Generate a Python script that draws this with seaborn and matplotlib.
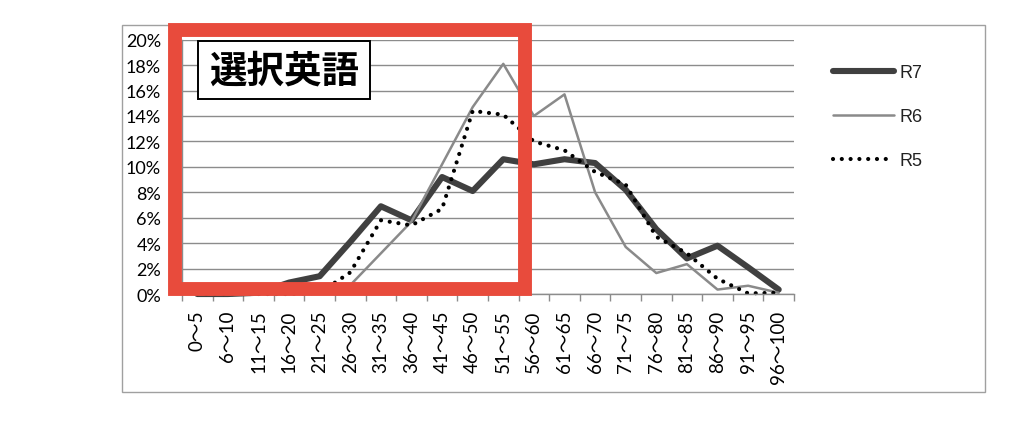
import numpy as np
import pandas as pd
import matplotlib.pyplot as plt
import matplotlib.patches as patches
import seaborn as sns

sns.set_theme(style="white")
plt.rcParams['font.family'] = ['Lato', 'Noto Sans CJK JP', 'DejaVu Sans']

# score ranges (x categories)
ranges = ["0～5", "6～10", "11～15", "16～20", "21～25", "26～30", "31～35", "36～40",
          "41～45", "46～50", "51～55", "56～60", "61～65", "66～70", "71～75", "76～80",
          "81～85", "86～90", "91～95", "96～100"]

# share of examinees per range, in percent
r7 = [0, 0, 0.1, 0.9, 1.4, 4.1, 6.9, 5.8, 9.2, 8.1, 10.6, 10.2, 10.6, 10.3, 8.2, 5.1, 2.8, 3.8, 2.1, 0.35]
r6 = [0, 0, 0, 0, 0.1, 0.7, 3.2, 5.7, 10.2, 14.7, 18.1, 14.0, 15.7, 8.0, 3.7, 1.65, 2.35, 0.35, 0.65, 0.1]
r5 = [0, 0, 0, 0, 0.1, 1.7, 5.8, 5.4, 6.7, 14.4, 14.1, 12.0, 11.3, 9.6, 8.6, 4.5, 3.2, 1.2, 0.05, 0.1]

y_ticks = list(range(0, 21, 2))
title = "選択英語"

df = pd.DataFrame({"range": ranges, "R7": r7, "R6": r6, "R5": r5})

fig = plt.figure(figsize=(10.24, 4.27), dpi=100)
ax = fig.add_axes([0.1777, 0.3091, 0.5977, 0.5956])

sns.lineplot(data=df, x="range", y="R7", ax=ax, sort=False, color="#404040", lw=4.4,
             solid_capstyle="round", solid_joinstyle="round", label="R7")
sns.lineplot(data=df, x="range", y="R6", ax=ax, sort=False, color="#8a8a8a", lw=1.8,
             label="R6")
sns.lineplot(data=df, x="range", y="R5", ax=ax, sort=False, color="black", lw=3.0,
             label="R5")
line5 = ax.get_lines()[2]
line5.set_linestyle((0, (0.01, 2.1)))
line5.set_dash_capstyle("round")
for ln in ax.get_lines():
    ln.set_clip_on(False)

ax.set_xlim(-0.5, len(ranges) - 0.5)
ax.set_ylim(0, 20)
ax.set_yticks(y_ticks)
ax.set_yticklabels([f"{v}%" for v in y_ticks])
ax.set_xlabel("")
ax.set_ylabel("")
ax.yaxis.grid(True, color="#8c8c8c", lw=1.0)
ax.set_axisbelow(True)

ax.set_xticks(np.arange(-0.5, len(ranges), 1), minor=True)
ax.tick_params(axis="x", which="major", length=0, pad=11, labelrotation=90, labelsize=13.5,
               labelcolor="black")
ax.tick_params(axis="x", which="minor", length=5, width=1, color="#8c8c8c", direction="out",
               bottom=True)
ax.tick_params(axis="y", length=0, pad=15, labelsize=13, labelcolor="black")
for lab in ax.get_xticklabels():
    lab.set_va("top")

for s in ["top", "right"]:
    ax.spines[s].set_visible(False)
for s in ["left", "bottom"]:
    ax.spines[s].set_color("#8c8c8c")
    ax.spines[s].set_linewidth(1.0)

leg = ax.legend(loc="upper left", bbox_to_anchor=(0.8135, 0.8475),
                bbox_transform=fig.transFigure, frameon=False, borderpad=0,
                borderaxespad=0, handlelength=3.4, handletextpad=0.3,
                labelspacing=1.5, prop={"family": "Liberation Sans", "size": 13})
for t in leg.get_texts():
    t.set_color("#222222")

W, H = 1024, 427

def px_rect(x0, y0, x1, y1, **kw):
    return patches.Rectangle((x0 / W, 1 - y1 / H), (x1 - x0) / W, (y1 - y0) / H,
                             transform=fig.transFigure, **kw)

# outer chart border
fig.patches.append(px_rect(122, 26, 985, 393, fill=False, edgecolor="#a0a0a0", lw=1.0, zorder=1))
# red highlight frame
fig.patches.append(px_rect(175, 31, 525, 289.5, fill=False, edgecolor="#e84b3c", lw=10, zorder=5))
# title box
fig.patches.append(px_rect(198, 42, 370, 100, facecolor="white", edgecolor="black", lw=1.4, zorder=6))
fig.text(284 / W, 1 - 71 / H, title, ha="center", va="center", fontsize=27, fontweight="bold",
         family=["Noto Sans CJK JP"], color="black", zorder=7)

fig.savefig("out.png", dpi=100, facecolor="white")
